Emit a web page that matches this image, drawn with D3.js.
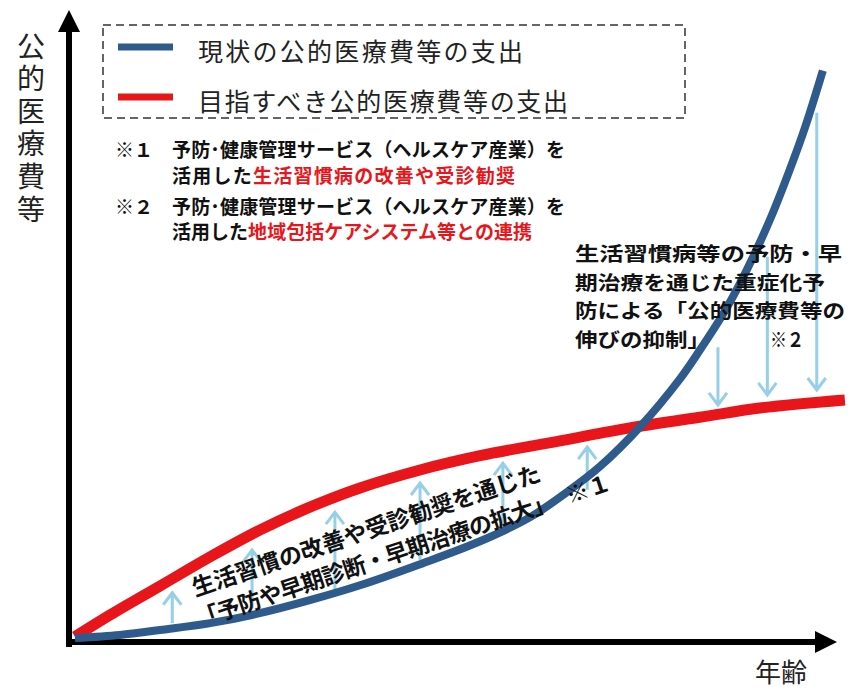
<!DOCTYPE html>
<html>
<head>
<meta charset="utf-8">
<script src="https://cdn.jsdelivr.net/npm/d3@7"></script>
<style>
  body { margin: 0; background: #fff; }
  svg { display: block; font-family: "Noto Sans CJK JP", "Noto Sans", sans-serif; }
</style>
</head>
<body>
<div id="chart"></div>
<script>
// current spending (blue) and target spending (red), index 0-100 over age 0-100
const currentAges  = [0, 5.9, 11.2, 17.8, 24.3, 30.9, 37.5, 45.4, 53.3, 59.9, 64.7, 69.1, 74.3, 79.6, 82.2, 85.3, 87.5, 89.7, 91.8, 94.1, 96.1, 98.4];
const currentSpend = [0, 0.5, 1.3, 2.4, 4.0, 6.1, 8.5, 11.9, 15.6, 19.5, 23.5, 27.7, 34.0, 41.8, 46.4, 52.3, 57.2, 62.7, 68.5, 75.7, 82.5, 91.5];
const targetAges   = [0, 4.6, 11.2, 17.8, 24.3, 30.9, 37.5, 45.4, 53.3, 63.8, 73.0, 82.2, 90.1, 101.3];
const targetSpend  = [0.2, 3.7, 8.4, 13.1, 17.4, 21.1, 24.2, 27.1, 29.4, 31.8, 33.9, 35.6, 37.1, 38.4];

// light-blue arrows: raising prevention (up) and curbing growth (down)
const upAges   = [12.8, 23.3, 34.2, 45.4, 56.3, 67.4];
const upFrom   = [2.4, 4.8, 7.7, 12.6, 17.4, 23.9];
const upTo     = [7.3, 14.2, 20.3, 25.0, 28.2, 30.8];
const downAges = [84.6, 91.1, 97.6];
const downFrom = [46.9, 61.5, 84.7];
const downTo   = [37.6, 39.2, 40.0];

const legendLabels = ["現状の公的医療費等の支出", "目指すべき公的医療費等の支出"];
const yLabel = "公的医療費等";
const xLabel = "年齢";

const width = 851, height = 690;
const blue = "#2f5b8c", red = "#e8161b", light = "#95cfe8", ink = "#111";

const x = d3.scaleLinear().domain([0, 100]).range([75, 835]);
const y = d3.scaleLinear().domain([0, 100]).range([638, 18]);

const svg = d3.select("#chart").append("svg")
  .attr("width", width)
  .attr("height", height)
  .attr("viewBox", `0 0 ${width} ${height}`);

svg.append("rect").attr("width", width).attr("height", height).attr("fill", "#fff");

const defs = svg.append("defs");
defs.append("marker")
  .attr("id", "axis-head")
  .attr("markerUnits", "userSpaceOnUse")
  .attr("viewBox", "0 -11 22 22")
  .attr("refX", 0).attr("refY", 0)
  .attr("markerWidth", 22).attr("markerHeight", 22)
  .attr("orient", "auto")
  .append("path")
  .attr("d", "M0,-11L22,0L0,11Z")
  .attr("fill", "#000");

// axes
svg.append("line")
  .attr("x1", x(0) - 6).attr("x2", x(0) - 6)
  .attr("y1", y(0) + 9).attr("y2", 32)
  .attr("stroke", "#000").attr("stroke-width", 6)
  .attr("marker-end", "url(#axis-head)");

svg.append("line")
  .attr("x1", x(0) - 9).attr("x2", 815)
  .attr("y1", y(0) + 4).attr("y2", y(0) + 4)
  .attr("stroke", "#000").attr("stroke-width", 6)
  .attr("marker-end", "url(#axis-head)");

// axis titles (y title written vertically)
svg.append("text")
  .attr("x", 31).attr("y", 32)
  .attr("fill", "#222")
  .attr("font-size", 28)
  .style("writing-mode", "vertical-rl")
  .style("text-orientation", "upright")
  .style("letter-spacing", "4.6px")
  .text(yLabel);

svg.append("text")
  .attr("x", 781).attr("y", 682)
  .attr("fill", "#222")
  .attr("font-size", 26)
  .attr("text-anchor", "middle")
  .text(xLabel);

// arrows
function arrowPath(ax, from, to) {
  const px = x(ax), p0 = y(from), p1 = y(to);
  const dir = p1 < p0 ? 1 : -1;
  return `M${px},${p0}L${px},${p1}M${px - 9},${p1 + dir * 12}L${px},${p1}L${px + 9},${p1 + dir * 12}`;
}

svg.append("g")
  .selectAll("path")
  .data(upAges.map((a, i) => ({ a, from: upFrom[i], to: upTo[i] }))
    .concat(downAges.map((a, i) => ({ a, from: downFrom[i], to: downTo[i] }))))
  .join("path")
  .attr("d", d => arrowPath(d.a, d.from, d.to))
  .attr("fill", "none")
  .attr("stroke", light)
  .attr("stroke-width", 3);

// curves
const line = d3.line()
  .x(d => x(d[0]))
  .y(d => y(d[1]))
  .curve(d3.curveCatmullRom.alpha(0.5));

svg.append("path")
  .datum(targetAges.map((a, i) => [a, targetSpend[i]]))
  .attr("d", line)
  .attr("fill", "none")
  .attr("stroke", red)
  .attr("stroke-width", 11);

svg.append("path")
  .datum(currentAges.map((a, i) => [a, currentSpend[i]]))
  .attr("d", line)
  .attr("fill", "none")
  .attr("stroke", blue)
  .attr("stroke-width", 8);

// legend
svg.append("rect")
  .attr("x", 103).attr("y", 25)
  .attr("width", 582).attr("height", 93)
  .attr("fill", "none")
  .attr("stroke", "#333")
  .attr("stroke-width", 1.5)
  .attr("stroke-dasharray", "8,5");

const legend = svg.append("g")
  .selectAll("g")
  .data(legendLabels)
  .join("g")
  .attr("transform", (d, i) => `translate(0,${i * 50})`);

legend.append("line")
  .attr("x1", 118).attr("x2", 173)
  .attr("y1", 47).attr("y2", 47)
  .attr("stroke", (d, i) => i === 0 ? blue : red)
  .attr("stroke-width", 7);

legend.append("text")
  .attr("x", 198).attr("y", 61)
  .attr("fill", "#222")
  .attr("font-size", 25)
  .attr("textLength", (d, i) => i === 0 ? 325 : 370)
  .attr("lengthAdjust", "spacing")
  .text(d => d);

// notes *1 / *2
const notes = [
  { mark: "※１", y: 157, parts: [["予防･健康管理サービス（ヘルスケア産業）を", ink]], len: 393 },
  { mark: "",     y: 183, parts: [["活用した", ink], ["生活習慣病の改善や受診勧奨", red]], len: 343 },
  { mark: "※２", y: 214, parts: [["予防･健康管理サービス（ヘルスケア産業）を", ink]], len: 393 },
  { mark: "",     y: 239, parts: [["活用した", ink], ["地域包括ケアシステム等との連携", red]], len: 360 }
];

const noteG = svg.append("g")
  .attr("font-size", 19)
  .attr("font-weight", 700);

notes.forEach(n => {
  if (n.mark) {
    noteG.append("text").attr("x", 115).attr("y", n.y).attr("fill", ink).text(n.mark);
  }
  const t = noteG.append("text")
    .attr("x", 172).attr("y", n.y)
    .attr("textLength", n.len)
    .attr("lengthAdjust", "spacing");
  n.parts.forEach(p => t.append("tspan").attr("fill", p[1]).text(p[0]));
});

// right annotation: compact lines, glyphs widened to the reference's wide face
const rightLines = [
  ["生活習慣病等の予防・早", 267],
  ["期治療を通じた重症化予", 250],
  ["防による「公的医療費等の", 270],
  ["伸びの抑制」", 135]
];
const rightG = svg.append("g")
  .attr("font-size", 19.5)
  .attr("font-weight", 700)
  .attr("fill", ink);

rightG.selectAll("text")
  .data(rightLines)
  .join("text")
  .attr("x", 575)
  .attr("y", (d, i) => 261 + i * 28.5)
  .attr("textLength", d => d[1])
  .attr("lengthAdjust", "spacingAndGlyphs")
  .text(d => d[0]);

rightG.append("text")
  .attr("x", 770).attr("y", 346.5)
  .attr("textLength", 34)
  .attr("lengthAdjust", "spacingAndGlyphs")
  .text("※２");

// rotated annotation
const slantG = svg.append("g")
  .attr("transform", "translate(205,626) rotate(-18.5)")
  .attr("font-size", 23)
  .attr("font-weight", 700)
  .attr("fill", ink);

slantG.append("text")
  .attr("x", 0).attr("y", -31)
  .attr("textLength", 366)
  .attr("lengthAdjust", "spacing")
  .text("生活習慣の改善や受診勧奨を通じた");

slantG.append("text")
  .attr("x", -6).attr("y", 0)
  .attr("textLength", 377)
  .attr("lengthAdjust", "spacing")
  .text("「予防や早期診断・早期治療の拡大」");

slantG.append("text")
  .attr("x", 384).attr("y", 0)
  .text("※１");
</script>
</body>
</html>
